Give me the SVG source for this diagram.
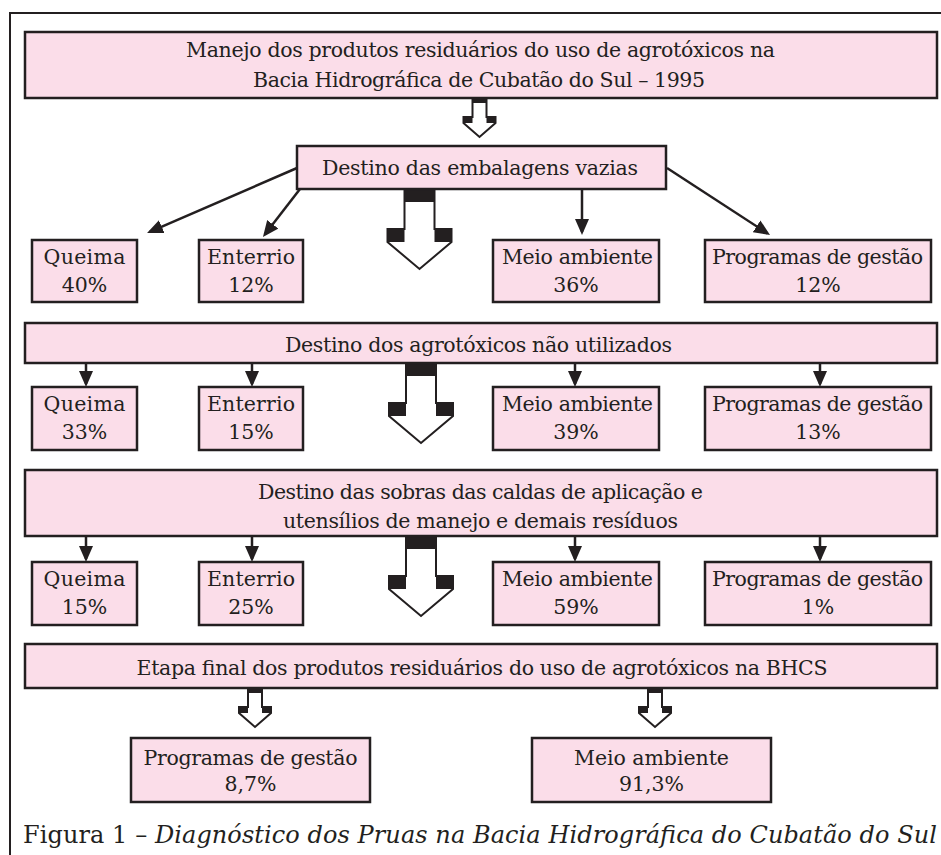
<svg xmlns="http://www.w3.org/2000/svg" xmlns:xlink="http://www.w3.org/1999/xlink" width="941" height="855" viewBox="0 0 941 855">
<style>
.box{fill:#fbdde9;stroke:#231f20;stroke-width:2.5}
.t{font-family:"DejaVu Serif","Liberation Serif",serif;font-size:20.5px;fill:#231f20;text-anchor:middle}
.c{stroke:#231f20;stroke-width:2.5;fill:none;marker-end:url(#ah)}
.frame{stroke:#231f20;stroke-width:2;fill:none}
.ho{fill:#fff;stroke:#231f20;stroke-width:2}
.hb{fill:#231f20}
</style>
<defs>
<marker id="ah" markerUnits="userSpaceOnUse" markerWidth="16" markerHeight="14" viewBox="0 0 16 14" refX="13" refY="7" orient="auto">
<path d="M0,0 L16,7 L0,14 Z" fill="#231f20"/>
</marker>
<g id="bigArrow">
<path class="ho" d="M-15,0 H15 V40 H32 V53 L0,80 L-32,53 V40 H-15 Z"/>
<rect class="hb" x="-15" y="0" width="30" height="13"/>
<rect class="hb" x="-32" y="40" width="17" height="13"/>
<rect class="hb" x="15" y="40" width="17" height="13"/>
</g>
<g id="smallArrow">
<path class="ho" d="M-7,0 H7 V19 H16 V25 L0,39 L-16,25 V19 H-7 Z"/>
<rect class="hb" x="-7" y="0" width="14" height="5"/>
<rect class="hb" x="-16" y="19" width="9" height="6"/>
<rect class="hb" x="7" y="19" width="9" height="6"/>
</g>
</defs>
<rect width="941" height="855" fill="#fff"/>
<path class="frame" d="M10,855 V13 H941"/>

<g id="connectors">
<path class="c" d="M297,168 L149.8,231.8"/>
<path class="c" d="M300,189 L264.8,234.6"/>
<path class="c" d="M582,189 V232"/>
<path class="c" d="M667,168 L767.5,233.4"/>
<path class="c" d="M86,363 V384"/>
<path class="c" d="M252,363 V384"/>
<path class="c" d="M575,363 V384"/>
<path class="c" d="M820,363 V384"/>
<path class="c" d="M86,536 V559"/>
<path class="c" d="M252,536 V559"/>
<path class="c" d="M575,536 V559"/>
<path class="c" d="M820,536 V559"/>
<use xlink:href="#smallArrow" href="#smallArrow" transform="translate(479.5,98)"/>
<use xlink:href="#bigArrow" href="#bigArrow" transform="translate(419.5,189)"/>
<use xlink:href="#bigArrow" href="#bigArrow" transform="translate(421,363)"/>
<use xlink:href="#bigArrow" href="#bigArrow" transform="translate(421,536)"/>
<use xlink:href="#smallArrow" href="#smallArrow" transform="translate(255,688)"/>
<use xlink:href="#smallArrow" href="#smallArrow" transform="translate(655,688)"/>
</g>

<g id="title">
<rect class="box" x="25" y="32" width="912" height="66"/>
<text class="t" x="480.5" y="57" textLength="589" lengthAdjust="spacing">Manejo dos produtos residuários do uso de agrotóxicos na</text>
<text class="t" x="479" y="87" textLength="452" lengthAdjust="spacing">Bacia Hidrográfica de Cubatão do Sul – 1995</text>
</g>

<g id="emb">
<rect class="box" x="297" y="146" width="369" height="43"/>
<text class="t" x="480" y="175" textLength="316" lengthAdjust="spacing">Destino das embalagens vazias</text>
</g>

<g id="r1-queima"><rect class="box" x="32" y="240" width="105" height="62"/>
<text class="t" x="84.5" y="264" textLength="82" lengthAdjust="spacing">Queima</text><text class="t" x="84.5" y="292">40%</text></g>
<g id="r1-enterrio"><rect class="box" x="199" y="240" width="104" height="62"/>
<text class="t" x="251" y="264" textLength="88" lengthAdjust="spacing">Enterrio</text><text class="t" x="251" y="292">12%</text></g>
<g id="r1-meio"><rect class="box" x="493" y="240" width="166" height="62"/>
<text class="t" x="577.5" y="264" textLength="151" lengthAdjust="spacing">Meio ambiente</text><text class="t" x="576" y="292">36%</text></g>
<g id="r1-prog"><rect class="box" x="705" y="240" width="226" height="62"/>
<text class="t" x="817.5" y="264" textLength="211" lengthAdjust="spacing">Programas de gestão</text><text class="t" x="818" y="292">12%</text></g>

<g id="naoutil">
<rect class="box" x="25" y="323" width="912" height="40"/>
<text class="t" x="478.5" y="352" textLength="387" lengthAdjust="spacing">Destino dos agrotóxicos não utilizados</text>
</g>

<g id="r2-queima"><rect class="box" x="32" y="387" width="105" height="63"/>
<text class="t" x="84.5" y="411" textLength="82" lengthAdjust="spacing">Queima</text><text class="t" x="84.5" y="439">33%</text></g>
<g id="r2-enterrio"><rect class="box" x="199" y="387" width="104" height="63"/>
<text class="t" x="251" y="411" textLength="88" lengthAdjust="spacing">Enterrio</text><text class="t" x="251" y="439">15%</text></g>
<g id="r2-meio"><rect class="box" x="493" y="387" width="166" height="63"/>
<text class="t" x="577.5" y="411" textLength="151" lengthAdjust="spacing">Meio ambiente</text><text class="t" x="576" y="439">39%</text></g>
<g id="r2-prog"><rect class="box" x="705" y="387" width="226" height="63"/>
<text class="t" x="817.5" y="411" textLength="211" lengthAdjust="spacing">Programas de gestão</text><text class="t" x="818" y="439">13%</text></g>

<g id="sobras">
<rect class="box" x="25" y="470" width="912" height="66"/>
<text class="t" x="480.5" y="499" textLength="445" lengthAdjust="spacing">Destino das sobras das caldas de aplicação e</text>
<text class="t" x="480.5" y="528" textLength="395" lengthAdjust="spacing">utensílios de manejo e demais resíduos</text>
</g>

<g id="r3-queima"><rect class="box" x="32" y="562" width="105" height="63"/>
<text class="t" x="84.5" y="586" textLength="82" lengthAdjust="spacing">Queima</text><text class="t" x="84.5" y="614">15%</text></g>
<g id="r3-enterrio"><rect class="box" x="199" y="562" width="104" height="63"/>
<text class="t" x="251" y="586" textLength="88" lengthAdjust="spacing">Enterrio</text><text class="t" x="251" y="614">25%</text></g>
<g id="r3-meio"><rect class="box" x="493" y="562" width="166" height="63"/>
<text class="t" x="577.5" y="586" textLength="151" lengthAdjust="spacing">Meio ambiente</text><text class="t" x="576" y="614">59%</text></g>
<g id="r3-prog"><rect class="box" x="705" y="562" width="226" height="63"/>
<text class="t" x="817.5" y="586" textLength="211" lengthAdjust="spacing">Programas de gestão</text><text class="t" x="818" y="614">1%</text></g>

<g id="final">
<rect class="box" x="25" y="644" width="912" height="44"/>
<text class="t" x="482" y="675" textLength="691" lengthAdjust="spacing">Etapa final dos produtos residuários do uso de agrotóxicos na BHCS</text>
</g>

<g id="f-prog"><rect class="box" x="131" y="738" width="239" height="64"/>
<text class="t" x="250.5" y="765" textLength="214" lengthAdjust="spacing">Programas de gestão</text><text class="t" x="250.5" y="791">8,7%</text></g>
<g id="f-meio"><rect class="box" x="532" y="738" width="239" height="64"/>
<text class="t" x="651.5" y="765" textLength="155" lengthAdjust="spacing">Meio ambiente</text><text class="t" x="651.5" y="791">91,3%</text></g>

<text x="23" y="843" font-family="DejaVu Serif, Liberation Serif, serif" font-size="24" fill="#231f20" textLength="914" lengthAdjust="spacing">Figura 1 – <tspan font-style="italic">Diagnóstico dos Pruas na Bacia Hidrográfica do Cubatão do Sul</tspan></text>
</svg>
